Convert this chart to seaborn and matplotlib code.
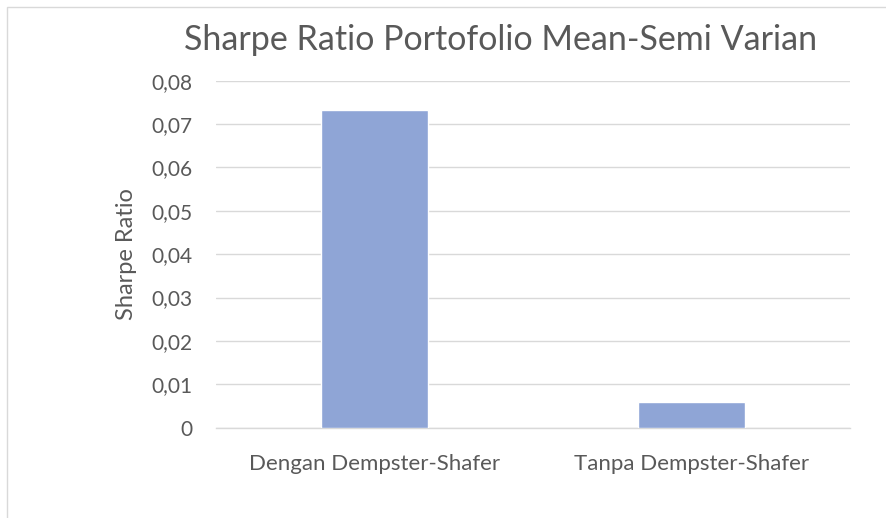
import matplotlib.pyplot as plt
import seaborn as sns
import pandas as pd
from matplotlib.ticker import FuncFormatter, FixedLocator

# data
categories = ['Dengan Dempster-Shafer', 'Tanpa Dempster-Shafer']
sharpe = [0.0733, 0.0059]
yticks = [0, 0.01, 0.02, 0.03, 0.04, 0.05, 0.06, 0.07, 0.08]

df = pd.DataFrame({'kategori': categories, 'sharpe': sharpe})

sns.set_style('white')
plt.rcParams['font.family'] = ['Lato', 'DejaVu Sans']
txt = '#595959'
grid = '#D9D9D9'

fig = plt.figure(figsize=(8.86, 5.18), dpi=100)
ax = fig.add_axes([0.2438, 0.1743, 0.7156, 0.6699])

sns.barplot(data=df, x='kategori', y='sharpe', color='#8FA5D6', width=0.34,
            saturation=1, ax=ax, zorder=3)

ax.set_xlim(-0.5, 1.5)
ax.set_ylim(0, 0.08)
ax.set_yticks(yticks)
ax.yaxis.set_major_formatter(FuncFormatter(lambda v, p: '0' if v == 0 else f'{v:.2f}'.replace('.', ',')))
ax.grid(axis='y', color=grid, linewidth=1, zorder=0)
for s in ['top', 'right', 'left']:
    ax.spines[s].set_visible(False)
ax.spines['bottom'].set_color(grid)
ax.spines['bottom'].set_linewidth(1)

ax.tick_params(axis='y', length=0, pad=17, labelsize=15, labelcolor=txt)
ax.tick_params(axis='x', which='major', length=0, pad=19, labelsize=16, labelcolor=txt)
ax.xaxis.set_minor_locator(FixedLocator([-0.5, 0.5, 1.5]))
ax.tick_params(axis='x', which='minor', length=5, color=grid, width=1)

ax.set_xlabel('')
ax.set_ylabel('Sharpe Ratio', fontsize=17, color=txt)
ax.yaxis.set_label_coords(-0.125, 0.5)
fig.text(0.565, 0.922, 'Sharpe Ratio Portofolio Mean-Semi Varian', ha='center', va='center',
         fontsize=24.5, color=txt)

# chart border
fig.patches.append(plt.Rectangle((7 / 886, -0.01), 1.0, 1 - 7 / 518 + 0.01, transform=fig.transFigure,
                                 fill=False, edgecolor=grid, linewidth=1))

fig.savefig('out.png', dpi=100)
